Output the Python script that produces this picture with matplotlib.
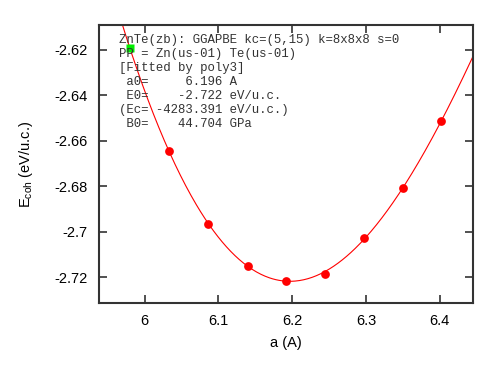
import numpy as np
import matplotlib
matplotlib.use("Agg")
import matplotlib.pyplot as plt

matplotlib.rcParams["mathtext.fontset"] = "custom"
matplotlib.rcParams["mathtext.rm"] = "Liberation Sans"
matplotlib.rcParams["mathtext.it"] = "Liberation Sans:italic"

# data
a_fit = [6.033, 6.086, 6.140, 6.192, 6.244, 6.297, 6.350, 6.402]
e_fit = [-2.6645, -2.6967, -2.7150, -2.7216, -2.7185, -2.7029, -2.6807, -2.6514]
a_extra = [5.980]
e_extra = [-2.6195]

x_ticks = [6.0, 6.1, 6.2, 6.3, 6.4]
x_tick_labels = ["6", "6.1", "6.2", "6.3", "6.4"]
y_ticks = [-2.62, -2.64, -2.66, -2.68, -2.70, -2.72]
y_tick_labels = ["-2.62", "-2.64", "-2.66", "-2.68", "-2.7", "-2.72"]

info_lines = [
    "ZnTe(zb): GGAPBE kc=(5,15) k=8x8x8 s=0",
    "PP = Zn(us-01) Te(us-01)",
    "[Fitted by poly3]",
    " a0=     6.196 A",
    " E0=    -2.722 eV/u.c.",
    "(Ec= -4283.391 eV/u.c.)",
    " B0=    44.704 GPa",
]

W, H = 500, 373
fig = plt.figure(figsize=(W / 100, H / 100), dpi=100)
L, R, T, B = 99, 473, 25, 303
ax = fig.add_axes([L / W, (H - B) / H, (R - L) / W, (B - T) / H])

ax.set_xlim(5.9381, 6.4449)
ax.set_ylim(-2.7314, -2.6092)

# poly3 fit of energy against cell volume (a^3/4), drawn against a
a_all = np.array(a_extra + a_fit)
e_all = np.array(e_extra + e_fit)
coef = np.polyfit(a_all ** 3 / 4, e_all, 3)
xx = np.linspace(5.90, 6.48, 400)
ax.plot(xx, np.polyval(coef, xx ** 3 / 4), color="#ff0000", lw=0.8, zorder=2)
ax.plot(a_fit, e_fit, "o", color="#ff0000", ms=6.3, mec="none", zorder=3)
ax.plot(a_extra, e_extra, "s", color="#00ee00", ms=6.0, mec="none", zorder=3)

ax.set_xticks(x_ticks)
ax.set_xticklabels(x_tick_labels)
ax.set_yticks(y_ticks)
ax.set_yticklabels(y_tick_labels)
ax.tick_params(direction="in", length=6, width=1.2, color="#333333",
               top=True, right=True, labelsize=10.5, pad=8)
for lab in ax.get_xticklabels() + ax.get_yticklabels():
    lab.set_family("Liberation Sans")
for s in ax.spines.values():
    s.set_linewidth(1.5)
    s.set_color("#333333")

ax.set_xlabel("a (A)", family="Liberation Sans", fontsize=10.5, labelpad=6)
ax.set_ylabel(r"E$_{\rm coh}$ (eV/u.c.)", family="Liberation Sans", fontsize=10.5, labelpad=14)

for i, line in enumerate(info_lines):
    ypx = 40 + 14 * i
    ax.text((119 - L) / (R - L), (B - ypx) / (B - T), line, transform=ax.transAxes,
            family="Liberation Mono", fontsize=8.9, va="center", ha="left",
            color="#333333", zorder=4)

fig.savefig("out.png", dpi=100)
